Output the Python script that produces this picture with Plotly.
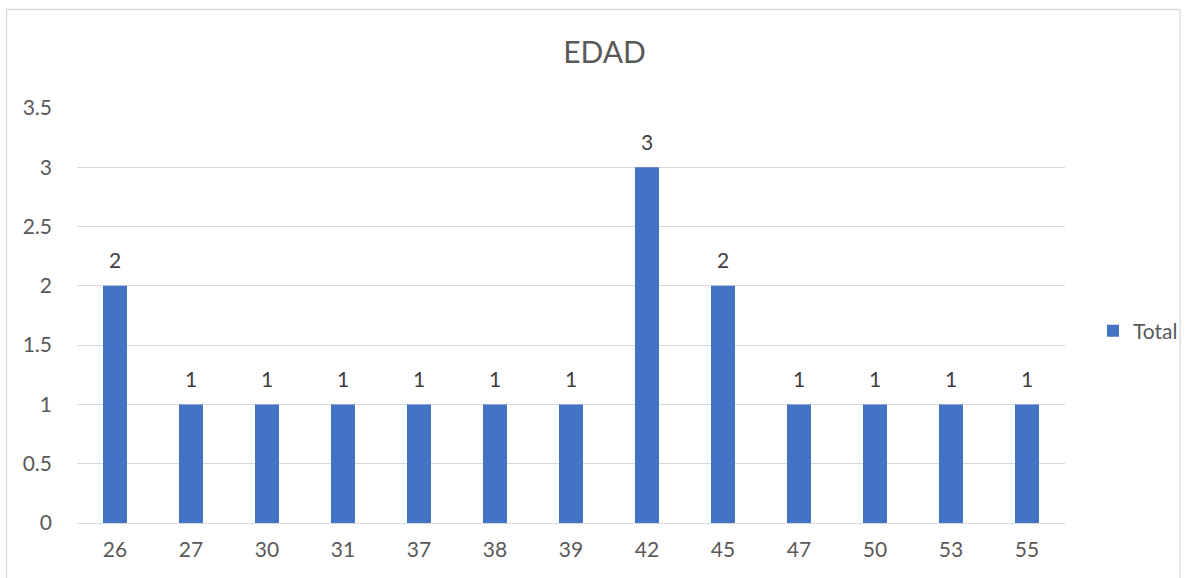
import plotly.graph_objects as go

categories = ["26", "27", "30", "31", "37", "38", "39", "42", "45", "47", "50", "53", "55"]
values = [2, 1, 1, 1, 1, 1, 1, 3, 2, 1, 1, 1, 1]
series_name = "Total"
title_text = "EDAD"

W, H = 1186, 578
L, R, T, B = 77, 121, 108, 55
pw = W - L - R
ph = H - T - B

def px_x(px):
    return (px - L) / pw

def px_y(py):
    return (H - B - py) / ph

font_family = "Lato, 'Open Sans', sans-serif"
text_color = "#595959"
label_color = "#404040"

fig = go.Figure()
fig.add_trace(go.Bar(
    x=categories, y=values, name=series_name,
    marker=dict(color="#4472C4", line=dict(width=0)),
    hoverinfo="skip",
))

annotations = [
    dict(x=i, y=v, xref="x", yref="y", text=str(v), showarrow=False,
         yanchor="middle", yshift=26, font=dict(size=21, color=label_color, family=font_family))
    for i, v in enumerate(values)
]

fig.update_layout(
    width=W, height=H,
    margin=dict(l=L, r=R, t=T, b=B, autoexpand=False),
    paper_bgcolor="white", plot_bgcolor="white",
    font=dict(family=font_family, size=21, color=text_color),
    title=dict(text=title_text, x=604.5 / W, xanchor="center", y=1 - 52.5 / H, yanchor="middle",
               font=dict(size=30, color=text_color, family=font_family)),
    bargap=0.684,
    showlegend=True,
    legend=dict(x=px_x(1093), y=px_y(331), xanchor="left", yanchor="middle",
                font=dict(size=21, color=text_color), itemwidth=30, bgcolor="rgba(0,0,0,0)"),
    xaxis=dict(type="category", range=[-0.5, len(categories) - 0.5], showgrid=False, showline=False,
               ticks="", tickfont=dict(size=21, color=text_color), ticklabelstandoff=12,
               automargin=False),
    yaxis=dict(range=[0, 3.5], dtick=0.5, showgrid=True, gridcolor="#D9D9D9", gridwidth=1,
               zeroline=True, zerolinecolor="#D9D9D9", zerolinewidth=1,
               showline=False, ticks="", tickfont=dict(size=21, color=text_color),
               ticklabelstandoff=24, tickformat="~g", automargin=False),
    annotations=annotations,
    shapes=[dict(type="rect", xref="paper", yref="paper",
                 x0=px_x(6.5), x1=px_x(1180), y0=px_y(590), y1=px_y(9.5),
                 line=dict(color="#D9D9D9", width=1.3), fillcolor="rgba(0,0,0,0)", layer="below")],
)

fig.write_html("out.html", config={"displayModeBar": False},
               post_script="document.body.style.margin='0';document.body.style.overflow='hidden';")
